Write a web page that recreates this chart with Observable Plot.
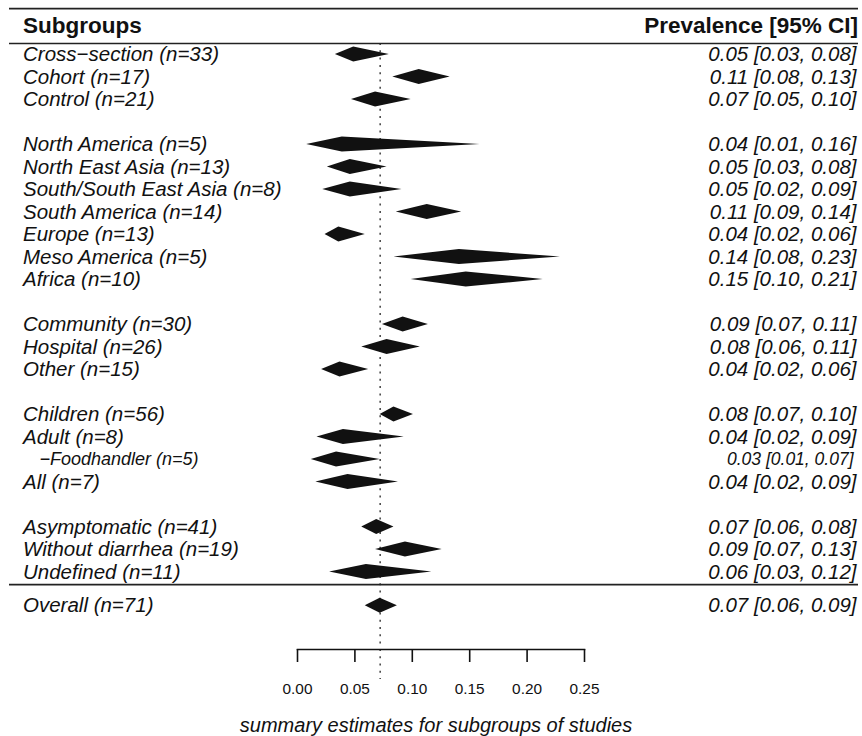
<!DOCTYPE html>
<html><head><meta charset="utf-8">
<script src="https://cdn.jsdelivr.net/npm/d3@7"></script>
<script src="https://cdn.jsdelivr.net/npm/@observablehq/plot@0.6"></script>
<style>body{margin:0;background:#fff}</style>
</head><body><div id="chart"></div>
<script>
// ---- data ----
const subgroups = ["Cross−section","Cohort","Control","North America","North East Asia","South/South East Asia","South America","Europe","Meso America","Africa","Community","Hospital","Other","Children","Adult","−Foodhandler","All","Asymptomatic","Without diarrhea","Undefined"];
const nStudies  = [33,17,21,5,13,8,14,13,5,10,30,26,15,56,8,5,7,41,19,11];
const groupIds  = [0,0,0,1,1,1,1,1,1,1,2,2,2,3,3,3,3,4,4,4];
const estimate  = [0.049,0.106,0.068,0.039,0.046,0.046,0.113,0.036,0.141,0.147,0.092,0.078,0.037,0.084,0.040,0.034,0.044,0.069,0.094,0.060];
const lower     = [0.033,0.083,0.047,0.008,0.026,0.022,0.086,0.024,0.084,0.099,0.074,0.056,0.021,0.072,0.017,0.012,0.016,0.056,0.068,0.028];
const upper     = [0.080,0.133,0.099,0.159,0.078,0.091,0.143,0.059,0.229,0.214,0.114,0.107,0.062,0.101,0.093,0.072,0.088,0.084,0.126,0.117];
const overallLabel = "Overall";
const overallN = 71;
const overallEst = 0.072, overallLo = 0.059, overallHi = 0.087;
const xTicks = [0, 0.05, 0.10, 0.15, 0.20, 0.25];
const leftHeader = "Subgroups";
const rightHeader = "Prevalence [95% CI]";
const xLabel = "summary estimates for subgroups of studies";

// ---- table ----
const rows = subgroups.map((s, i) => ({
  label: s, n: nStudies[i], est: estimate[i], lo: lower[i], hi: upper[i],
  row: i + 1 + groupIds[i], sub: s.startsWith("−")
}));
const lastRow = rows[rows.length - 1].row;
const all = [...rows, {label: overallLabel, n: overallN, est: overallEst, lo: overallLo, hi: overallHi, row: lastRow + 1.5, sub: false}];

const H = 0.333; // diamond half height (rows)
const pts = all.flatMap((d, k) => [
  {id: k, y: d.row - H, x1: d.est, x2: d.est},
  {id: k, y: d.row, x1: d.lo, x2: d.hi},
  {id: k, y: d.row + H, x1: d.est, x2: d.est}
]);
const fmt = d => `${d.est.toFixed(2)} [${d.lo.toFixed(2)}, ${d.hi.toFixed(2)}]`;

const font = "'Liberation Sans', Arial, Helvetica, sans-serif";
const headRow = -0.29, topRule = -1.04, headRule = 0.51, sepRule = lastRow + 0.56;

const chart = Plot.plot({
  width: 862, height: 736,
  marginLeft: 297, marginRight: 278, marginTop: 43, marginBottom: 87,
  style: {fontFamily: font, background: "#fff", color: "#111", overflow: "visible"},
  x: {domain: [0, 0.25]},
  y: {domain: [1, lastRow + 1.5], range: [54, 54 + (lastRow + 0.5) * 22.5], axis: null},
  marks: [
    Plot.ruleX([overallEst], {insetBottom: -30, stroke: "#333", strokeWidth: 1.4, strokeDasharray: "2,5.3"}),
    Plot.ruleY([topRule, headRule, sepRule], {insetLeft: -288, insetRight: -274, stroke: "#222", strokeWidth: 1.6}),
    Plot.areaX(pts, {y: "y", x1: "x1", x2: "x2", z: "id", fill: "#111", curve: "linear"}),
    Plot.text(all.filter(d => !d.sub), {y: "row", text: d => `${d.label} (n=${d.n})`, frameAnchor: "left", textAnchor: "start", dx: -274.5, fontStyle: "italic", fontSize: 20.5, fill: "#111"}),
    Plot.text(all.filter(d => d.sub), {y: "row", text: d => `${d.label} (n=${d.n})`, frameAnchor: "left", textAnchor: "start", dx: -258, fontStyle: "italic", fontSize: 18, fill: "#111"}),
    Plot.text(all.filter(d => !d.sub), {y: "row", text: fmt, frameAnchor: "right", textAnchor: "end", dx: 272, fontStyle: "italic", fontSize: 20.5, fill: "#111"}),
    Plot.text(all.filter(d => d.sub), {y: "row", text: fmt, frameAnchor: "right", textAnchor: "end", dx: 269, fontStyle: "italic", fontSize: 17.5, fill: "#111"}),
    Plot.text([leftHeader], {y: [headRow], text: d => d, frameAnchor: "left", textAnchor: "start", dx: -274.5, fontWeight: "bold", fontSize: 22.5, fill: "#111"}),
    Plot.text([rightHeader], {y: [headRow], text: d => d, frameAnchor: "right", textAnchor: "end", dx: 273.5, fontWeight: "bold", fontSize: 22.5, fill: "#111"}),
    Plot.frame({anchor: "bottom", stroke: "#111", strokeWidth: 1.6}),
    Plot.axisX({ticks: xTicks, tickFormat: d => d.toFixed(2), tickSize: 13, tickPadding: 21, fontSize: 15.4, label: null, strokeWidth: 1.6, stroke: "#111"}),
    Plot.text([xLabel], {text: d => d, frameAnchor: "bottom", dy: 76, dx: -5, lineAnchor: "middle", fontStyle: "italic", fontSize: 20, fill: "#111"})
  ]
});
document.getElementById("chart").appendChild(chart);
</script>
</body></html>
